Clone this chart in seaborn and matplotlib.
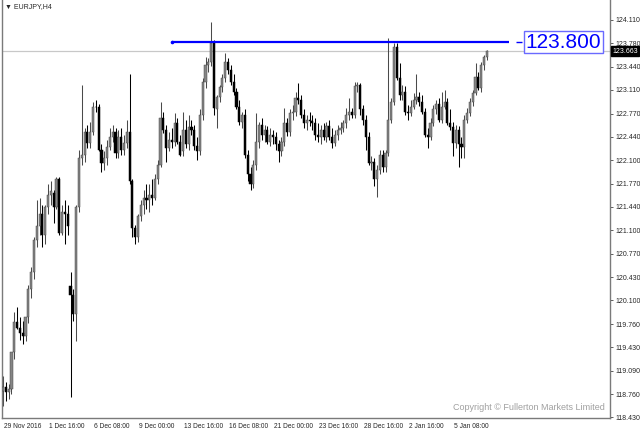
import numpy as np
import pandas as pd
import matplotlib
matplotlib.use("Agg")
import matplotlib.pyplot as plt
import matplotlib.transforms as mtransforms
import seaborn as sns

# EURJPY H4 candles, 29 Nov 2016 .. 6 Jan 2017
opens = [
    118.80, 118.86, 118.79, 118.83, 119.36, 119.79, 119.71, 119.64, 119.59, 119.86,
    120.26, 120.51, 120.97, 121.17, 121.33, 121.03, 121.43, 121.60, 121.64, 121.44,
    121.83, 121.07, 121.37, 121.34, 120.30, 120.18, 119.90, 121.43, 122.14, 122.18,
    122.51, 122.35, 122.51, 122.87, 122.86, 122.25, 122.07, 122.14, 122.30, 122.44,
    122.51, 122.21, 122.43, 122.25, 122.35, 122.51, 121.80, 121.14, 121.01, 121.30,
    121.47, 121.57, 121.54, 121.61, 121.57, 121.83, 122.04, 122.71, 122.54, 122.28,
    122.40, 122.37, 122.64, 122.37, 122.23, 122.54, 122.33, 122.58, 122.54, 122.31,
    122.23, 122.75, 123.22, 123.47, 123.51, 123.78, 122.83, 123.01, 123.15, 123.28,
    123.51, 123.40, 123.22, 123.08, 122.87, 122.65, 122.75, 122.18, 121.90, 121.76,
    122.04, 122.37, 122.61, 122.47, 122.54, 122.37, 122.47, 122.43, 122.33, 122.23,
    122.37, 122.64, 122.51, 122.78, 122.80, 123.00, 122.97, 122.75, 122.64, 122.68,
    122.67, 122.64, 122.47, 122.43, 122.54, 122.44, 122.60, 122.44, 122.35, 122.47,
    122.54, 122.57, 122.63, 122.75, 122.80, 122.75, 123.17, 123.18, 122.83, 122.68,
    122.43, 122.07, 122.08, 121.83, 121.97, 122.18, 122.01, 122.21, 122.68, 122.94,
    123.72, 123.28, 123.04, 123.08, 122.80, 122.78, 122.87, 122.97, 123.01, 122.94,
    122.80, 122.47, 122.44, 122.64, 122.83, 122.91, 122.68, 122.87, 122.94, 122.64,
    122.58, 122.35, 122.54, 122.33, 122.30, 122.68, 122.78, 122.94, 123.07, 123.30,
    123.14, 123.47, 123.58,
]
highs = [
    119.02, 118.93, 118.90, 119.00, 119.93, 120.00, 119.86, 119.80, 119.86, 120.32,
    120.57, 121.00, 121.54, 121.57, 121.47, 121.47, 121.76, 121.80, 121.68, 121.87,
    121.87, 121.47, 121.54, 121.47, 120.51, 120.26, 121.47, 122.25, 123.18, 122.57,
    122.61, 122.65, 122.93, 122.97, 122.91, 122.33, 122.23, 122.40, 122.57, 122.61,
    122.57, 122.54, 122.57, 122.47, 122.68, 123.33, 121.83, 121.18, 121.33, 121.54,
    121.68, 121.76, 121.76, 121.83, 121.90, 122.11, 122.93, 122.80, 122.61, 122.51,
    122.57, 122.78, 122.71, 122.47, 122.80, 122.68, 122.75, 122.68, 122.61, 122.43,
    122.83, 123.28, 123.58, 123.57, 124.08, 123.82, 123.04, 123.18, 123.33, 123.64,
    123.57, 123.47, 123.33, 123.14, 122.97, 122.80, 122.83, 122.25, 122.00, 122.11,
    122.78, 122.65, 122.71, 122.61, 122.60, 122.57, 122.54, 122.51, 122.40, 122.43,
    122.85, 122.71, 122.83, 122.90, 123.08, 123.21, 123.03, 122.83, 122.75, 122.80,
    122.75, 122.71, 122.63, 122.61, 122.63, 122.65, 122.68, 122.57, 122.54, 122.61,
    122.65, 122.68, 122.85, 123.00, 122.85, 123.22, 123.22, 123.21, 122.90, 122.75,
    122.51, 122.16, 122.14, 122.04, 122.25, 122.25, 122.25, 123.85, 123.00, 123.78,
    123.78, 123.50, 123.18, 123.17, 122.90, 122.97, 123.07, 123.33, 123.08, 123.04,
    122.85, 122.57, 122.71, 122.90, 122.97, 123.00, 123.08, 123.11, 123.00, 122.83,
    122.65, 122.61, 122.60, 122.43, 122.75, 122.85, 123.00, 123.11, 123.50, 123.37,
    123.51, 123.61, 123.68,
]
lows = [
    118.59, 118.66, 118.69, 118.76, 119.26, 119.69, 119.54, 119.47, 119.52, 119.77,
    120.14, 120.40, 120.86, 121.04, 120.86, 120.90, 121.33, 121.47, 121.21, 121.40,
    121.03, 121.03, 120.90, 121.04, 118.72, 119.80, 119.52, 121.37, 122.04, 122.08,
    122.28, 122.28, 122.47, 122.80, 122.23, 121.94, 121.97, 122.04, 122.25, 122.37,
    122.14, 122.14, 122.18, 122.18, 122.28, 121.76, 121.01, 120.90, 120.94, 121.23,
    121.33, 121.40, 121.37, 121.47, 121.54, 121.76, 122.00, 122.50, 122.08, 122.23,
    122.28, 122.31, 122.33, 122.16, 122.17, 122.28, 122.25, 122.47, 122.25, 122.11,
    122.18, 122.68, 123.14, 123.37, 123.45, 122.75, 122.57, 122.94, 123.08, 123.22,
    123.33, 123.18, 123.04, 122.83, 122.61, 122.57, 122.14, 121.80, 121.68, 121.71,
    121.97, 122.28, 122.40, 122.37, 122.33, 122.31, 122.33, 122.25, 122.08, 122.17,
    122.31, 122.45, 122.45, 122.68, 122.74, 122.91, 122.71, 122.57, 122.54, 122.60,
    122.54, 122.40, 122.37, 122.34, 122.40, 122.37, 122.40, 122.28, 122.31, 122.40,
    122.48, 122.51, 122.57, 122.68, 122.71, 122.71, 123.08, 122.75, 122.61, 122.25,
    122.04, 121.97, 121.73, 121.58, 121.90, 121.94, 121.93, 122.16, 122.63, 122.90,
    123.25, 122.97, 122.97, 122.75, 122.68, 122.73, 122.83, 122.91, 122.88, 122.77,
    122.43, 122.28, 122.40, 122.60, 122.77, 122.65, 122.63, 122.83, 122.61, 122.54,
    122.16, 122.28, 122.01, 122.14, 122.14, 122.63, 122.74, 122.88, 123.03, 123.11,
    123.08, 123.40, 123.54,
]
closes = [
    118.86, 118.79, 118.83, 119.36, 119.79, 119.71, 119.64, 119.59, 119.86, 120.26,
    120.51, 120.97, 121.17, 121.33, 121.03, 121.43, 121.60, 121.66, 121.44, 121.83,
    121.07, 121.37, 121.34, 121.16, 120.18, 119.90, 121.43, 122.14, 122.18, 122.51,
    122.35, 122.51, 122.87, 122.86, 122.25, 122.07, 122.14, 122.30, 122.44, 122.51,
    122.21, 122.43, 122.25, 122.35, 122.51, 121.80, 121.14, 121.01, 121.30, 121.47,
    121.57, 121.54, 121.61, 121.57, 121.83, 122.04, 122.71, 122.54, 122.28, 122.40,
    122.37, 122.64, 122.37, 122.18, 122.54, 122.33, 122.58, 122.54, 122.31, 122.23,
    122.75, 123.22, 123.47, 123.51, 123.78, 122.85, 123.01, 123.15, 123.28, 123.51,
    123.40, 123.22, 123.08, 122.87, 122.65, 122.75, 122.18, 121.90, 121.76, 122.04,
    122.37, 122.61, 122.47, 122.54, 122.37, 122.47, 122.43, 122.33, 122.23, 122.37,
    122.64, 122.51, 122.78, 122.80, 123.00, 122.97, 122.75, 122.64, 122.68, 122.67,
    122.64, 122.47, 122.43, 122.54, 122.44, 122.60, 122.44, 122.35, 122.47, 122.54,
    122.57, 122.63, 122.75, 122.80, 122.75, 123.17, 123.18, 122.83, 122.68, 122.43,
    122.07, 122.08, 121.83, 121.97, 122.18, 122.01, 122.21, 122.68, 122.94, 123.72,
    123.28, 123.04, 123.08, 122.80, 122.78, 122.87, 122.97, 123.01, 122.94, 122.80,
    122.47, 122.44, 122.64, 122.83, 122.91, 122.68, 122.87, 122.94, 122.64, 122.58,
    122.35, 122.54, 122.33, 122.30, 122.68, 122.78, 122.94, 123.07, 123.30, 123.14,
    123.47, 123.58, 123.663,
]

date_ticks = [0, 16, 32, 48, 64, 80, 96, 112, 128, 144, 160]
date_labels = ["29 Nov 2016", "1 Dec 16:00", "6 Dec 08:00", "9 Dec 00:00", "13 Dec 16:00",
               "16 Dec 08:00", "21 Dec 00:00", "23 Dec 16:00", "28 Dec 16:00",
               "2 Jan 16:00", "5 Jan 08:00"]
price_ticks = [118.430, 118.760, 119.090, 119.430, 119.760, 120.100, 120.430, 120.770,
               121.100, 121.440, 121.770, 122.100, 122.440, 122.770, 123.110, 123.440,
               123.780, 124.110]
level = 123.800          # blue horizontal line
level_start = 60         # bar where the blue line starts

sns.set_theme(style="white")
FONT = ["Liberation Sans", "DejaVu Sans"]
plt.rcParams["font.family"] = FONT

df = pd.DataFrame({"open": opens, "high": highs, "low": lows, "close": closes})
df["bar"] = np.arange(len(df))
up = df[df["close"] >= df["open"]]
dn = df[df["close"] < df["open"]]

fig = plt.figure(figsize=(6.4, 4.32), dpi=100)
ax = fig.add_axes([2 / 640, 14.5 / 432, 608 / 640, 417.5 / 432])

for part, col, edge in [(up, "#858585", "#4a4a4a"), (dn, "black", "black")]:
    ax.vlines(part["bar"], part["low"], part["high"], color=edge, lw=0.75, zorder=2)
    body = (part["close"] - part["open"]).abs().clip(lower=0.008)
    ax.bar(part["bar"], body, bottom=part[["open", "close"]].min(axis=1), width=0.75,
           color=col, edgecolor=edge, lw=0.35, zorder=3)

ax.set_xlim(-0.36, 215.8)
ax.set_ylim(118.425, 124.395)

# current price line and blue level
last = closes[-1]
ax.axhline(last, color="#c8c8c8", lw=0.9, zorder=1)
ax.hlines(level, level_start, 179.9, color="#0000ff", lw=1.6, zorder=4)
ax.plot([level_start], [level], "o", ms=1.6, color="#0000ff", zorder=4)
ax.hlines(level, 182.4, 184.6, color="#0000ff", lw=1.0, zorder=4)
ax.text(199.3, level - 0.01, f"{level:.3f}", color="#0000ff", fontsize=15, ha="center",
        va="center", zorder=5,
        bbox=dict(boxstyle="square,pad=0.08", fc="white", ec="#6a6aff", lw=1.0))

# axes styling
for side in ["left", "bottom", "right"]:
    ax.spines[side].set_color("#7a7a7a")
    ax.spines[side].set_linewidth(1.0)
ax.spines["top"].set_visible(False)

ax.set_xticks(date_ticks)
ax.set_xticklabels(date_labels, fontsize=4.8, ha="left")
ax.tick_params(axis="x", direction="out", length=2.2, width=0.6, color="#444444", pad=2)
for lab in ax.get_xticklabels():
    lab.set_transform(lab.get_transform() + mtransforms.ScaledTranslation(1 / 100, 0, fig.dpi_scale_trans))

ax.yaxis.tick_right()
ax.set_yticks(price_ticks)
ax.set_yticklabels([f"{p:.3f}" for p in price_ticks], fontsize=5)
ax.tick_params(axis="y", direction="out", length=2.2, width=0.6, color="#444444", pad=1.5)

blend = mtransforms.blended_transform_factory(ax.transAxes, ax.transData)
ax.text(1.004, last, f"{last:.3f}", transform=blend, fontsize=5, color="white",
        ha="left", va="center", zorder=6,
        bbox=dict(boxstyle="square,pad=0.2", fc="black", ec="black"))

ax.text(0.005, 0.985, "\u25bc EURJPY,H4", transform=ax.transAxes, fontsize=5,
        ha="left", va="center", family=FONT)
ax.text(0.992, 0.025, "Copyright \u00a9 Fullerton Markets Limited", transform=ax.transAxes,
        fontsize=6.5, color="#a0a0a0", ha="right", va="center")

fig.savefig("out.png", dpi=100)
